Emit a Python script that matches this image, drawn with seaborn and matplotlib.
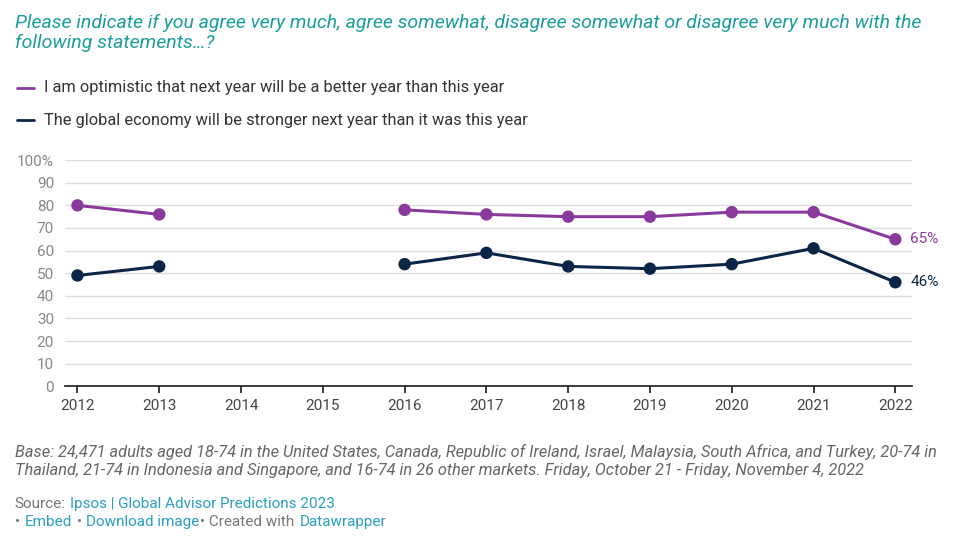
import numpy as np
import pandas as pd
import matplotlib.pyplot as plt
import seaborn as sns

years = [2012, 2013, 2014, 2015, 2016, 2017, 2018, 2019, 2020, 2021, 2022]
optimistic = [80, 76, np.nan, np.nan, 78, 76, 75, 75, 77, 77, 65]
economy = [49, 53, np.nan, np.nan, 54, 59, 53, 52, 54, 61, 46]
y_ticks = [0, 10, 20, 30, 40, 50, 60, 70, 80, 90, 100]
y_labels = ['0', '10', '20', '30', '40', '50', '60', '70', '80', '90', '100%']

purple = '#8a3a9c'
navy = '#0b2547'

sns.set_theme(style='white')
plt.rcParams['font.family'] = ['Roboto', 'DejaVu Sans']

fig = plt.figure(figsize=(9.73, 5.41), dpi=100)
ax = fig.add_axes([0.067, 0.286, 0.87, 0.418])

df = pd.DataFrame({'year': years, 'opt': optimistic, 'eco': economy})
for col, color in [('opt', purple), ('eco', navy)]:
    ax.plot(df['year'], df[col], color=color, lw=2.2)
    sns.scatterplot(data=df, x='year', y=col, color=color, s=80, edgecolor='none', ax=ax, zorder=3)

ax.text(2022.18, 65, '65%', color=purple, fontsize=11, va='center')
ax.text(2022.18, 46, '46%', color=navy, fontsize=11, va='center')

ax.set_xlim(2011.85, 2022.2)
ax.set_ylim(0, 100)
ax.set_yticks(y_ticks)
ax.set_yticklabels(y_labels, color='#888888', fontsize=11)
ax.set_xticks(years)
ax.set_xticklabels([str(y) for y in years], color='#444444', fontsize=11)
ax.yaxis.grid(True, color='#dddddd', lw=1)
ax.set_xlabel('')
ax.set_ylabel('')
for s in ['top', 'right', 'left']:
    ax.spines[s].set_visible(False)
ax.spines['bottom'].set_color('#222222')
ax.tick_params(axis='x', bottom=True, length=5, color='#222222', pad=4)
ax.tick_params(axis='y', left=False, pad=2)

fig.text(0.015, 0.975, 'Please indicate if you agree very much, agree somewhat, disagree somewhat or disagree very much with the\nfollowing statements…?',
         color='#1a9e9a', fontsize=14, style='italic', va='top', linespacing=1.15)

fig.add_artist(plt.Line2D([0.017, 0.035], [0.838, 0.838], color=purple, lw=2))
fig.text(0.045, 0.838, 'I am optimistic that next year will be a better year than this year', fontsize=11.8, color='#333333', va='center')
fig.add_artist(plt.Line2D([0.017, 0.035], [0.778, 0.778], color=navy, lw=2))
fig.text(0.045, 0.778, 'The global economy will be stronger next year than it was this year', fontsize=11.8, color='#333333', va='center')

fig.text(0.015, 0.148, 'Base: 24,471 adults aged 18-74 in the United States, Canada, Republic of Ireland, Israel, Malaysia, South Africa, and Turkey, 20-74 in\nThailand, 21-74 in Indonesia and Singapore, and 16-74 in 26 other markets. Friday, October 21 - Friday, November 4, 2022',
         fontsize=11.8, style='italic', color='#666666', va='center', linespacing=1.25)
fig.text(0.015, 0.068, 'Source:', fontsize=11, color='#777777', va='center')
fig.text(0.072, 0.068, 'Ipsos | Global Advisor Predictions 2023', fontsize=11, color='#2a9fc0', va='center')
fig.text(0.015, 0.035, '•', fontsize=11, color='#777777', va='center')
fig.text(0.025, 0.035, 'Embed', fontsize=11, color='#2a9fc0', va='center')
fig.text(0.079, 0.035, '•', fontsize=11, color='#777777', va='center')
fig.text(0.088, 0.035, 'Download image', fontsize=11, color='#2a9fc0', va='center')
fig.text(0.206, 0.035, '• Created with', fontsize=11, color='#777777', va='center')
fig.text(0.308, 0.035, 'Datawrapper', fontsize=11, color='#2a9fc0', va='center')

fig.savefig('out.png', dpi=100)
